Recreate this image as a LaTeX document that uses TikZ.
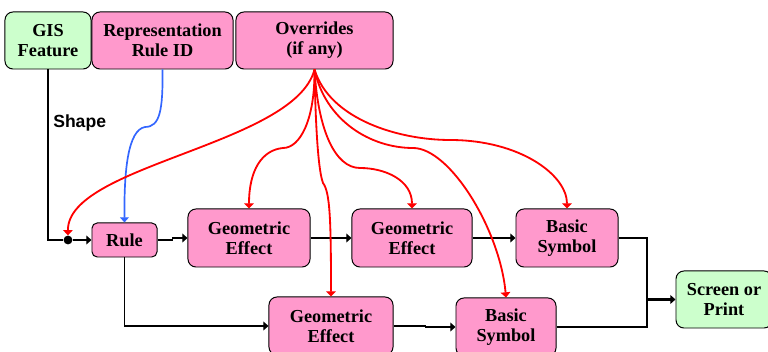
\documentclass[tikz,border=0pt]{standalone}
\usepackage{fontspec}
\setmainfont{Liberation Serif}
\newfontfamily\labelfont{Liberation Sans}
\usetikzlibrary{arrows.meta}

\definecolor{pinkfill}{RGB}{255,153,204}
\definecolor{greenfill}{RGB}{204,255,204}
\definecolor{rulelink}{RGB}{51,102,255}

\tikzset{
	box/.style={draw, line width=0.7pt, rounded corners=0.2cm, fill=pinkfill, align=center, inner sep=0pt,
		font=\fontsize{13}{14.2}\selectfont\bfseries, minimum height=1.45cm},
	iobox/.style={box, fill=greenfill, minimum height=1.425cm},
	flow/.style={line width=1.4pt, -{Triangle[length=1.3mm, width=2.2mm]}},
	over/.style={red, line width=1.3pt, -{Triangle[length=1.3mm, width=2.4mm]}},
}

\begin{document}
\begin{tikzpicture}[x=0.025cm, y=-0.025cm]
	\useasboundingbox (0,0) rectangle (768,352);

	% inputs along the top
	\node[iobox, minimum width=2.15cm] (gis) at (48,40.5) {GIS\\Feature};
	\node[box, minimum width=3.525cm, minimum height=1.425cm] (rep) at (162.5,40.5) {Representation\\Rule ID};
	\node[box, minimum width=3.925cm, minimum height=1.425cm] (ov) at (314.5,40.5) {Overrides\\(if any)};

	% first row
	\node[box, minimum width=1.625cm, minimum height=0.85cm, rounded corners=0.13cm] (rule) at (124.5,240) {Rule};
	\node[box, minimum width=3.05cm] (ge1) at (249,238) {Geometric\\Effect};
	\node[box, minimum width=3.0cm] (ge2) at (412,238) {Geometric\\Effect};
	\node[box, minimum width=2.55cm] (bs1) at (567,238) {Basic\\Symbol};

	% second row
	\node[box, minimum width=3.1cm] (ge3) at (331,326) {Geometric\\Effect};
	\node[box, minimum width=2.5cm] (bs2) at (506,327) {Basic\\Symbol};

	\node[iobox, minimum width=2.4cm] (scr) at (724,299.5) {Screen or\\Print};

	\node[circle, fill, inner sep=0pt, minimum size=0.22cm] (dot) at (68,240) {};
	\coordinate (jn) at (647,299.5);

	% black flow
	\draw [line width=1.4pt] (gis.south) |- (dot);
	\draw [flow] (dot) -- (rule.west);
	\node[anchor=base west, inner sep=0pt, font=\fontsize{12.5}{14}\labelfont\bfseries] (shp) at (53,128) {Shape};
	\draw [flow] (rule.east) -- ++(15,0) |- (ge1.west);
	\draw [flow] (ge1.east) -- (ge2.west);
	\draw [flow] (ge2.east) -- (bs1.west);
	\draw [flow] (rule.south) |- (ge3.west);
	\draw [flow] (ge3.east) -- ++(32,0) |- (bs2.west);
	\draw [line width=1.4pt] (bs1.east) -| (jn);
	\draw [line width=1.4pt] (bs2.east) -| (jn);
	\draw [flow, line width=1.8pt] (jn) -- (scr.west);

	% rule id link
	\draw [rulelink, line width=1.2pt, -{Triangle[length=1.3mm, width=2.2mm]}] (rep.south) .. controls (163,110) and (160,127) .. (145,127) .. controls (128,130) and (124,170) .. (rule.north);

	% overrides
	\draw [over] (ov.south) .. controls (295,145) and (67,165) .. (dot.north);
	\draw [over] (ov.south) .. controls (315,120) and (300,148) .. (283,148) .. controls (262,150) and (249,170) .. (ge1.north);
	\draw [over] (ov.south) .. controls (316,150) and (320,175) .. (323,183) .. controls (330,192) and (331,220) .. (ge3.north);
	\draw [over] (ov.south) .. controls (318,130) and (335,168) .. (360,168) .. controls (385,168) and (412,180) .. (ge2.north);
	\draw [over] (ov.south) .. controls (325,120) and (370,148) .. (413,148) .. controls (450,148) and (500,230) .. (bs2.north);
	\draw [over] (ov.south) .. controls (330,120) and (400,140) .. (450,140) .. controls (520,140) and (567,175) .. (bs1.north);
\end{tikzpicture}
\end{document}
